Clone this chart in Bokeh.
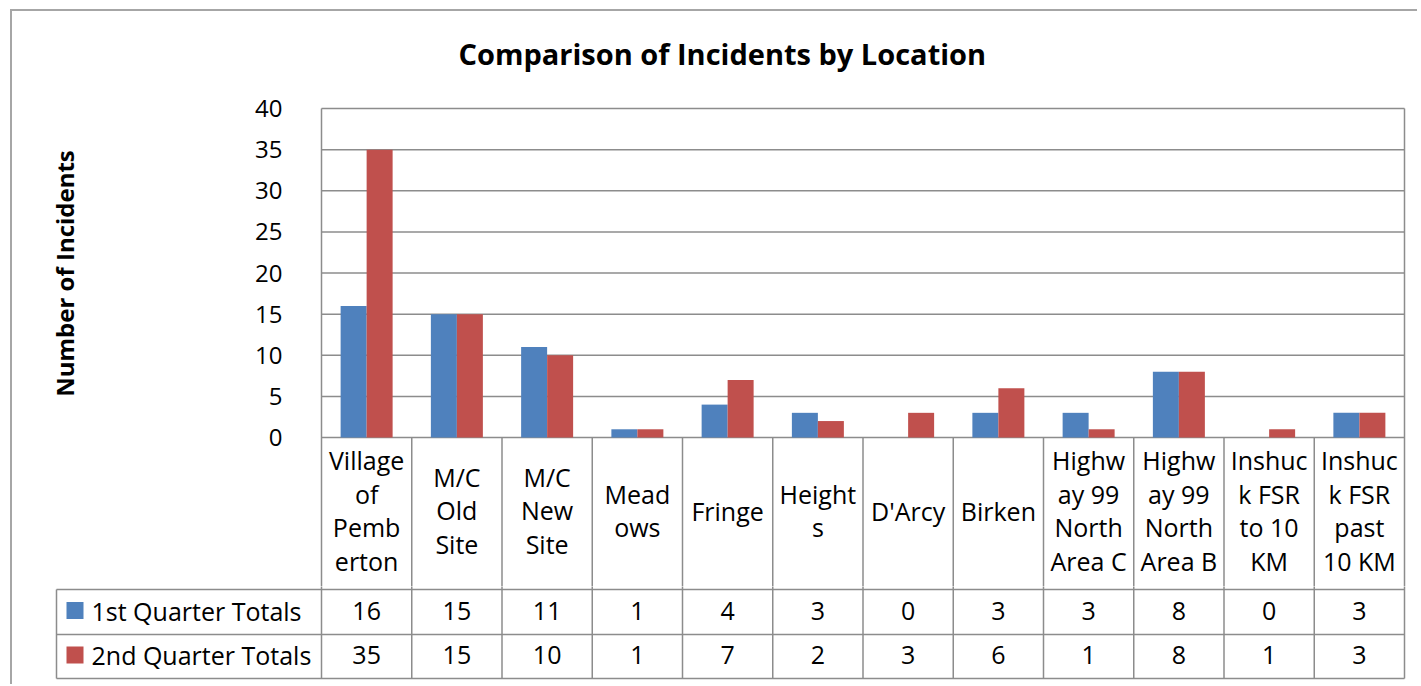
from bokeh.plotting import figure
from bokeh.layouts import column, row
from bokeh.models import Range1d, FixedTicker, Title
from bokeh.core.properties import value
from bokeh.embed import file_html
from bokeh.resources import INLINE

# ---------------- data ----------------
categories = ["Village of Pemberton", "M/C Old Site", "M/C New Site", "Meadows", "Fringe",
              "Heights", "D'Arcy", "Birken", "Highway 99 North Area C",
              "Highway 99 North Area B", "Inshuck FSR to 10 KM", "Inshuck FSR past 10 KM"]
category_lines = [["Village", "of", "Pemb", "erton"], ["M/C", "Old", "Site"], ["M/C", "New", "Site"],
                  ["Mead", "ows"], ["Fringe"], ["Height", "s"], ["D'Arcy"], ["Birken"],
                  ["Highw", "ay 99", "North", "Area C"], ["Highw", "ay 99", "North", "Area B"],
                  ["Inshuc", "k FSR", "to 10", "KM"], ["Inshuc", "k FSR", "past", "10 KM"]]
series_names = ["1st Quarter Totals", "2nd Quarter Totals"]
q1_totals = [16, 15, 11, 1, 4, 3, 0, 3, 3, 8, 0, 3]
q2_totals = [35, 15, 10, 1, 7, 2, 3, 6, 1, 8, 1, 3]
y_ticks = [0, 5, 10, 15, 20, 25, 30, 35, 40]
chart_title = "Comparison of Incidents by Location"
y_title = "Number of Incidents"

# ---------------- style / layout constants (pixels) ----------------
FONT = "Open Sans"
BLUE = "#4F81BD"
RED = "#C0504D"
GRID = "#8c8c8c"
N = len(categories)
COL_PX = 90.25
PPU = 329 / 40            # pixels per incident on the value axis
bar_w = 26 / COL_PX
xpad = 3 / COL_PX
YMAX = y_ticks[-1]
HEAD_PX = 152             # height of the category header row
ROW_PX = [45, 44]         # heights of the two value rows
TFS = "25px"

# ---------------- value axis (own narrow figure) ----------------
py = figure(width=306, height=445, x_range=Range1d(0, 1),
            y_range=Range1d(-19 / PPU, YMAX + 18 / PPU),
            output_backend="svg", toolbar_location=None,
            min_border_left=305, min_border_right=0, min_border_top=79, min_border_bottom=0)
py.frame_align = False
py.align = "start"
py.xaxis.visible = False
py.grid.visible = False
py.outline_line_color = None
py.border_fill_color = "white"
ya = py.yaxis[0]
ya.ticker = FixedTicker(ticks=y_ticks)
ya.axis_line_color = None
ya.major_tick_line_color = None
ya.minor_tick_line_color = None
ya.major_label_text_font = FONT
ya.major_label_text_font_size = "24px"
ya.major_label_text_color = "black"
ya.major_label_standoff = 29
ya.axis_label = y_title
ya.axis_label_text_font = FONT
ya.axis_label_text_font_size = "24px"
ya.axis_label_text_font_style = "bold"
ya.axis_label_text_color = "black"
ya.axis_label_standoff = 171

# ---------------- chart + category header ----------------
pA = figure(width=1099, height=575, x_range=Range1d(-xpad, N + xpad),
            y_range=Range1d(-(HEAD_PX - 3) / PPU, YMAX + 18 / PPU),
            output_backend="svg", toolbar_location=None,
            min_border_left=0, min_border_right=10, min_border_top=79, min_border_bottom=0)
pA.frame_align = False
pA.align = "start"
pA.axis.visible = False
pA.grid.visible = False
pA.outline_line_color = None
pA.background_fill_color = "white"
pA.border_fill_color = "white"
pA.title = Title(text=chart_title, align="left", offset=140, standoff=36,
                 text_font=FONT, text_font_size="29px", text_font_style="bold",
                 text_color="black")

head_bottom = -HEAD_PX / PPU
# horizontal gridlines (0 and 40 are the plot area's own edges)
pA.segment(x0=[0] * len(y_ticks), y0=y_ticks, x1=[N] * len(y_ticks), y1=y_ticks,
           line_color=GRID, line_width=1.5)
# plot-area sides, continued down through the header
pA.segment(x0=[0, N], y0=[head_bottom] * 2, x1=[0, N], y1=[YMAX] * 2, line_color=GRID, line_width=1.5)
inner = list(range(1, N))
pA.segment(x0=inner, y0=[head_bottom] * len(inner), x1=inner, y1=[0] * len(inner),
           line_color=GRID, line_width=1.5)

xs = [i + 0.5 for i in range(N)]
pA.vbar(x=[x - bar_w / 2 for x in xs], width=bar_w, top=q1_totals, bottom=0,
        fill_color=BLUE, line_color=None)
pA.vbar(x=[x + bar_w / 2 for x in xs], width=bar_w, top=q2_totals, bottom=0,
        fill_color=RED, line_color=None)

pA.text(x=xs, y=[head_bottom / 2 + 3 / PPU] * N, text=["\n".join(c) for c in category_lines],
        text_align="center", text_baseline="middle", text_font=value(FONT),
        text_font_size=TFS, text_line_height=0.99, text_color="black")

# ---------------- value rows of the data table ----------------
L = (321 - 56) / COL_PX
pB = figure(width=1405, height=98, x_range=Range1d(-L - xpad, N + xpad),
            y_range=Range1d(HEAD_PX + sum(ROW_PX) + 4, HEAD_PX - 3),
            output_backend="svg", toolbar_location=None,
            min_border_left=41, min_border_right=10, min_border_top=0, min_border_bottom=2)
pB.frame_align = False
pB.axis.visible = False
pB.grid.visible = False
pB.outline_line_color = None
pB.border_fill_color = "white"

r_top = [HEAD_PX, HEAD_PX + ROW_PX[0]]
r_bot = [HEAD_PX + ROW_PX[0], HEAD_PX + sum(ROW_PX)]
vx0 = list(range(N + 1))
pB.segment(x0=vx0, y0=[0] * len(vx0), x1=vx0, y1=[r_bot[1]] * len(vx0),
           line_color=GRID, line_width=1.5)
pB.segment(x0=[-L], y0=[r_top[0]], x1=[-L], y1=[r_bot[1]], line_color=GRID, line_width=1.5)
hy = [r_top[0], r_top[1], r_bot[1]]
pB.segment(x0=[-L] * 3, y0=hy, x1=[N] * 3, y1=hy, line_color=GRID, line_width=1.5)

r1y = (r_top[0] + r_bot[0]) / 2 - 1.5
r2y = (r_top[1] + r_bot[1]) / 2 - 1.5
pB.text(x=xs, y=[r1y] * N, text=[str(v) for v in q1_totals], text_align="center",
        text_baseline="middle", text_font=value(FONT), text_font_size=TFS, text_color="black")
pB.text(x=xs, y=[r2y] * N, text=[str(v) for v in q2_totals], text_align="center",
        text_baseline="middle", text_font=value(FONT), text_font_size=TFS, text_color="black")
pB.scatter(x=[-L + 18.5 / COL_PX] * 2, y=[r1y, r2y], marker="square", size=17,
           fill_color=[BLUE, RED], line_color=None)
pB.text(x=[-L + 35 / COL_PX] * 2, y=[r1y, r2y], text=series_names, text_align="left",
        text_baseline="middle", text_font=value(FONT), text_font_size=TFS, text_color="black")

layout = column(row(py, pA), pB,
                styles={"border-left": "2px solid #a6a6a6", "border-top": "2px solid #a6a6a6",
                        "margin-left": "10px", "margin-top": "9px"})

open("out.html", "w").write(file_html(layout, INLINE))
